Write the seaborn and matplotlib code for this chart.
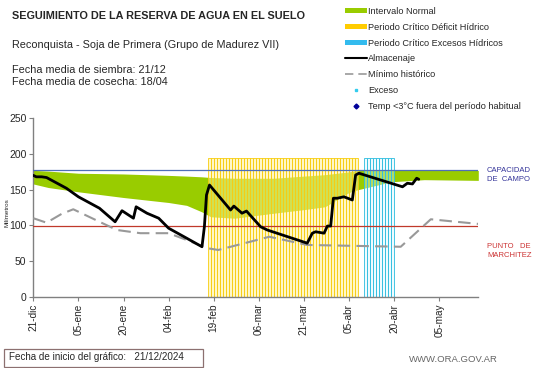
import numpy as np
import pandas as pd
import matplotlib
matplotlib.use("Agg")
import matplotlib.pyplot as plt
import seaborn as sns
from matplotlib.patches import Patch, Rectangle
from matplotlib.lines import Line2D

# ---- data (x = days since 21/12/2024) ----
tick_days = [0, 15, 30, 45, 60, 75, 90, 105, 120, 135]
tick_labels = ["21-dic", "05-ene", "20-ene", "04-feb", "19-feb", "06-mar",
               "21-mar", "05-abr", "20-abr", "05-may"]

band_days = [0, 5, 15, 30, 45, 51, 56, 59, 67, 80, 90, 97, 105, 108, 119, 130, 148]
band_low = [158, 153, 147, 139, 132, 128, 119, 112, 110, 117, 122, 126, 146, 150, 161, 164, 163]
band_high = [177, 176, 173, 172, 170, 169, 168, 167, 166, 166, 169, 171, 175, 177, 177, 177, 177]

alm_days = [0, 1, 2.8, 4.4, 11, 15, 22, 27.2, 29.5, 33.3, 34.2, 37.8, 41.7, 45, 51,
            56.1, 56.9, 57.6, 58.6, 65.6, 66.7, 69.4, 70.9, 75.6, 77.8, 91.1, 92.8,
            93.9, 96.7, 97.8, 98.9, 99.8, 101.1, 103.3, 106.1, 107.2, 108.3, 122.8,
            124.4, 126.1, 127.5, 128.2]
alm_vals = [170, 168, 168, 167, 152, 140, 124, 105, 120.5, 110, 126, 117, 110, 96, 82,
            70, 98, 142.5, 156.5, 121.5, 127, 117, 120, 98, 93.5, 75, 89,
            91, 89, 99, 99, 138, 138, 140, 135.5, 170.5, 173, 154,
            159, 158, 166, 164.5]

min_days = [0, 4.4, 9.4, 13.3, 22, 27.8, 35.6, 45, 51, 57.8, 61.5, 74.4, 78.5, 91.1,
            122.2, 132.2, 148]
min_vals = [110, 103.7, 116, 122.5, 105, 93.5, 89, 89, 79.5, 68, 65.5, 79.5, 84, 72.5,
            70, 108.5, 102]

deficit_days = np.arange(58, 108)
exceso_days = np.arange(110, 120)
critical_top = 194
capacidad = 177
marchitez = 99

# ---- style ----
sns.set_style("white")
plt.rcParams['font.family'] = ['Liberation Sans', 'DejaVu Sans']

fig = plt.figure(figsize=(5.41, 3.68), dpi=100)
ax = fig.add_axes([33.3 / 541, 1 - 296.7 / 368, (478.3 - 33.3) / 541, (296.7 - 118.3) / 368])

green = "#99cc00"
ax.fill_between(band_days, band_low, band_high, color=green, lw=0, zorder=1)

ax.bar(deficit_days, [critical_top] * len(deficit_days), width=1.0, align="edge",
       facecolor=(1.0, 0.95, 0.6, 0.55), edgecolor=(0.97, 0.80, 0.05, 0.85),
       linewidth=0.7, zorder=2)
ax.bar(exceso_days, [critical_top] * len(exceso_days), width=1.0, align="edge",
       facecolor=(0.85, 0.96, 1.0, 0.4), edgecolor=(0.2, 0.75, 0.88, 0.9),
       linewidth=0.7, zorder=2)

ax.axhline(capacidad, color="#4f6fb8", lw=0.9, zorder=3)
ax.axhline(marchitez, color="#c0392b", lw=0.9, zorder=3)

df_min = pd.DataFrame({"dia": min_days, "mm": min_vals})
sns.lineplot(data=df_min, x="dia", y="mm", ax=ax, color="#999999", lw=1.5,
             dashes=False, zorder=4)
ax.lines[-1].set_dashes([6, 3])
df_alm = pd.DataFrame({"dia": alm_days, "mm": alm_vals})
sns.lineplot(data=df_alm, x="dia", y="mm", ax=ax, color="black", lw=2, zorder=5)

ax.set_xlim(0, 148)
ax.set_ylim(0, 250)
ax.set_xticks(tick_days)
ax.set_xticklabels(tick_labels, rotation=90, fontsize=7.2)
ax.set_yticks([0, 50, 100, 150, 200, 250])
ax.tick_params(axis="y", labelsize=7.5, length=3, direction="out", left=True, color="#808080", pad=2)
ax.tick_params(axis="x", length=3, direction="out", bottom=True, color="#808080", pad=2)
ax.set_xlabel("")
ax.set_ylabel("")
for s in ["top", "right"]:
    ax.spines[s].set_visible(False)
for s in ["left", "bottom"]:
    ax.spines[s].set_color("#808080")
    ax.spines[s].set_linewidth(1)

fig.text(7 / 541, 1 - 213 / 368, "Milímetros", rotation=90, fontsize=4.5,
         ha="center", va="center")

# right labels
fig.text(487 / 541, 1 - 175 / 368, "CAPACIDAD\nDE  CAMPO", color="#333399",
         fontsize=5.5, ha="left", va="center", linespacing=1.3)
fig.text(487 / 541, 1 - 251 / 368, "PUNTO   DE\nMARCHITEZ", color="#cc3333",
         fontsize=5.5, ha="left", va="center", linespacing=1.3)

# titles
fig.text(12 / 541, 1 - 16 / 368, "SEGUIMIENTO DE LA RESERVA DE AGUA EN EL SUELO",
         fontsize=7.8, fontweight="bold", ha="left", va="center")
fig.text(12 / 541, 1 - 45 / 368, "Reconquista - Soja de Primera (Grupo de Madurez VII)",
         fontsize=7.8, ha="left", va="center")
fig.text(12 / 541, 1 - 70 / 368, "Fecha media de siembra: 21/12",
         fontsize=7.8, ha="left", va="center")
fig.text(12 / 541, 1 - 82 / 368, "Fecha media de cosecha: 18/04",
         fontsize=7.8, ha="left", va="center")

# legend
handles = [
    Patch(facecolor=green, edgecolor="none"),
    Patch(facecolor="#ffcc00", edgecolor="none"),
    Patch(facecolor="#33bbee", edgecolor="none"),
    Line2D([], [], color="black", lw=1.5),
    Line2D([], [], color="#999999", lw=1.2, dashes=[5, 3]),
    Line2D([], [], color="#33ccee", marker="s", markersize=2, lw=0),
    Line2D([], [], color="#000099", marker="D", markersize=2.5, lw=0),
]
labels = ["Intervalo Normal", "Periodo Crítico Déficit Hídrico",
          "Periodo Crítico Excesos Hídricos", "Almacenaje", "Mínimo histórico",
          "Exceso", "Temp <3°C fuera del período habitual"]
fig.legend(handles, labels, loc="upper left", bbox_to_anchor=(345 / 541, 1 - 7 / 368),
           frameon=False, fontsize=6.6, labelspacing=0.74, handlelength=2.4,
           handleheight=0.45, handletextpad=0.15, borderaxespad=0, borderpad=0)

# bottom box
fig.patches.append(Rectangle((4 / 541, 1 - 366.5 / 368), 199 / 541, 18 / 368,
                             transform=fig.transFigure, facecolor="white",
                             edgecolor="#8c7070", lw=0.9))
fig.text(9 / 541, 1 - 357.5 / 368, "Fecha de inicio del gráfico:   21/12/2024",
         fontsize=7.1, ha="left", va="center")
fig.text(498 / 541, 1 - 360 / 368, "WWW.ORA.GOV.AR", fontsize=6.8, color="#666666",
         ha="right", va="center")

fig.savefig("out.png", dpi=100)
